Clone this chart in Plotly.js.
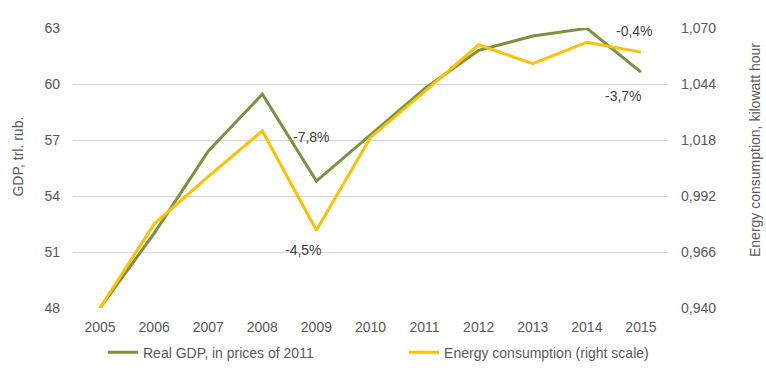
<!DOCTYPE html>
<html>
<head>
<meta charset="utf-8">
<script src="https://cdn.plot.ly/plotly-3.0.1.min.js"></script>
<style>html,body{margin:0;padding:0;background:#fff;}#chart{width:766px;height:381px;}</style>
</head>
<body>
<div id="chart"></div>
<script>
const years = ['2005','2006','2007','2008','2009','2010','2011','2012','2013','2014','2015'];
const gdp = [48.0, 52.0, 56.4, 59.45, 54.8, 57.3, 59.75, 61.8, 62.57, 62.98, 60.64];
const energy = [0.940, 0.979, 1.001, 1.0222, 0.9761, 1.0192, 1.0405, 1.0622, 1.0534, 1.0634, 1.0588];
const gdpTicks = [48, 51, 54, 57, 60, 63];
const energyTicks = [0.940, 0.966, 0.992, 1.018, 1.044, 1.070];
const gdpName = 'Real GDP, in prices of 2011';
const energyName = 'Energy consumption (right scale)';
const gdpTitle = 'GDP, trl. rub.';
const energyTitle = 'Energy consumption, kilowatt hour';
// data labels: [series, year, text, xshift, yshift]
const labels = [
  ['gdp', '2009', '-7,8%', -5, 44],
  ['energy', '2009', '-4,5%', -13, -20],
  ['energy', '2015', '-0,4%', -6, 21],
  ['gdp', '2015', '-3,7%', -17, -24]
];

const FONT = 'Liberation Sans, Arial, sans-serif';
const TXT = '#595959';

const traces = [
  {x: years, y: gdp, name: gdpName, type: 'scatter', mode: 'lines',
   line: {color: '#77933C', width: 3}, yaxis: 'y', legend: 'legend'},
  {x: years, y: energy, name: energyName, type: 'scatter', mode: 'lines',
   line: {color: '#FFC000', width: 3}, yaxis: 'y2', legend: 'legend2'}
];

const annotations = labels.map(l => {
  const idx = years.indexOf(l[1]);
  const isG = l[0] === 'gdp';
  return {x: idx, y: isG ? gdp[idx] : energy[idx], xref: 'x', yref: isG ? 'y' : 'y2',
    text: l[2], showarrow: false, xanchor: 'center', yanchor: 'middle',
    xshift: l[3], yshift: l[4], font: {family: FONT, size: 14, color: '#404040'}};
});
annotations.push({x: -0.0916, y: 0.5426, xref: 'paper', yref: 'paper', text: gdpTitle,
  textangle: -90, showarrow: false, xanchor: 'center', yanchor: 'middle',
  font: {family: FONT, size: 14, color: TXT}});
annotations.push({x: 1.146, y: 0.5638, xref: 'paper', yref: 'paper', text: energyTitle,
  textangle: -90, showarrow: false, xanchor: 'center', yanchor: 'middle',
  font: {family: FONT, size: 14, color: TXT}});

const layout = {
  width: 766, height: 381,
  margin: {l: 73, r: 98, t: 28, b: 71},
  paper_bgcolor: '#ffffff', plot_bgcolor: '#ffffff',
  separators: ', ',
  font: {family: FONT, size: 14, color: TXT},
  showlegend: true,
  xaxis: {type: 'category', range: [-0.5, 10.5], showgrid: false, zeroline: false,
    showline: false, ticks: '', ticklabelstandoff: 9, tickfont: {family: FONT, size: 14, color: TXT}},
  yaxis: {range: [48, 63], tickmode: 'array', tickvals: gdpTicks, showgrid: true,
    gridcolor: '#D9D9D9', gridwidth: 1, zeroline: false, showline: false, ticks: '',
    ticklabelstandoff: 12, tickfont: {family: FONT, size: 14, color: TXT}},
  yaxis2: {range: [0.940, 1.070], overlaying: 'y', side: 'right', tickmode: 'array',
    tickvals: energyTicks, tickformat: '.3f', showgrid: false, zeroline: false,
    showline: false, ticks: '', ticklabelstandoff: 12, tickfont: {family: FONT, size: 14, color: TXT}},
  legend: {x: 0.0504, y: -0.1596, xanchor: 'left', yanchor: 'middle', orientation: 'h',
    bgcolor: 'rgba(0,0,0,0)', font: {family: FONT, size: 14, color: TXT}},
  legend2: {x: 0.5564, y: -0.1596, xanchor: 'left', yanchor: 'middle', orientation: 'h',
    bgcolor: 'rgba(0,0,0,0)', font: {family: FONT, size: 14, color: TXT}},
  annotations: annotations
};

Plotly.newPlot('chart', traces, layout, {displayModeBar: false, staticPlot: true});
</script>
</body>
</html>
